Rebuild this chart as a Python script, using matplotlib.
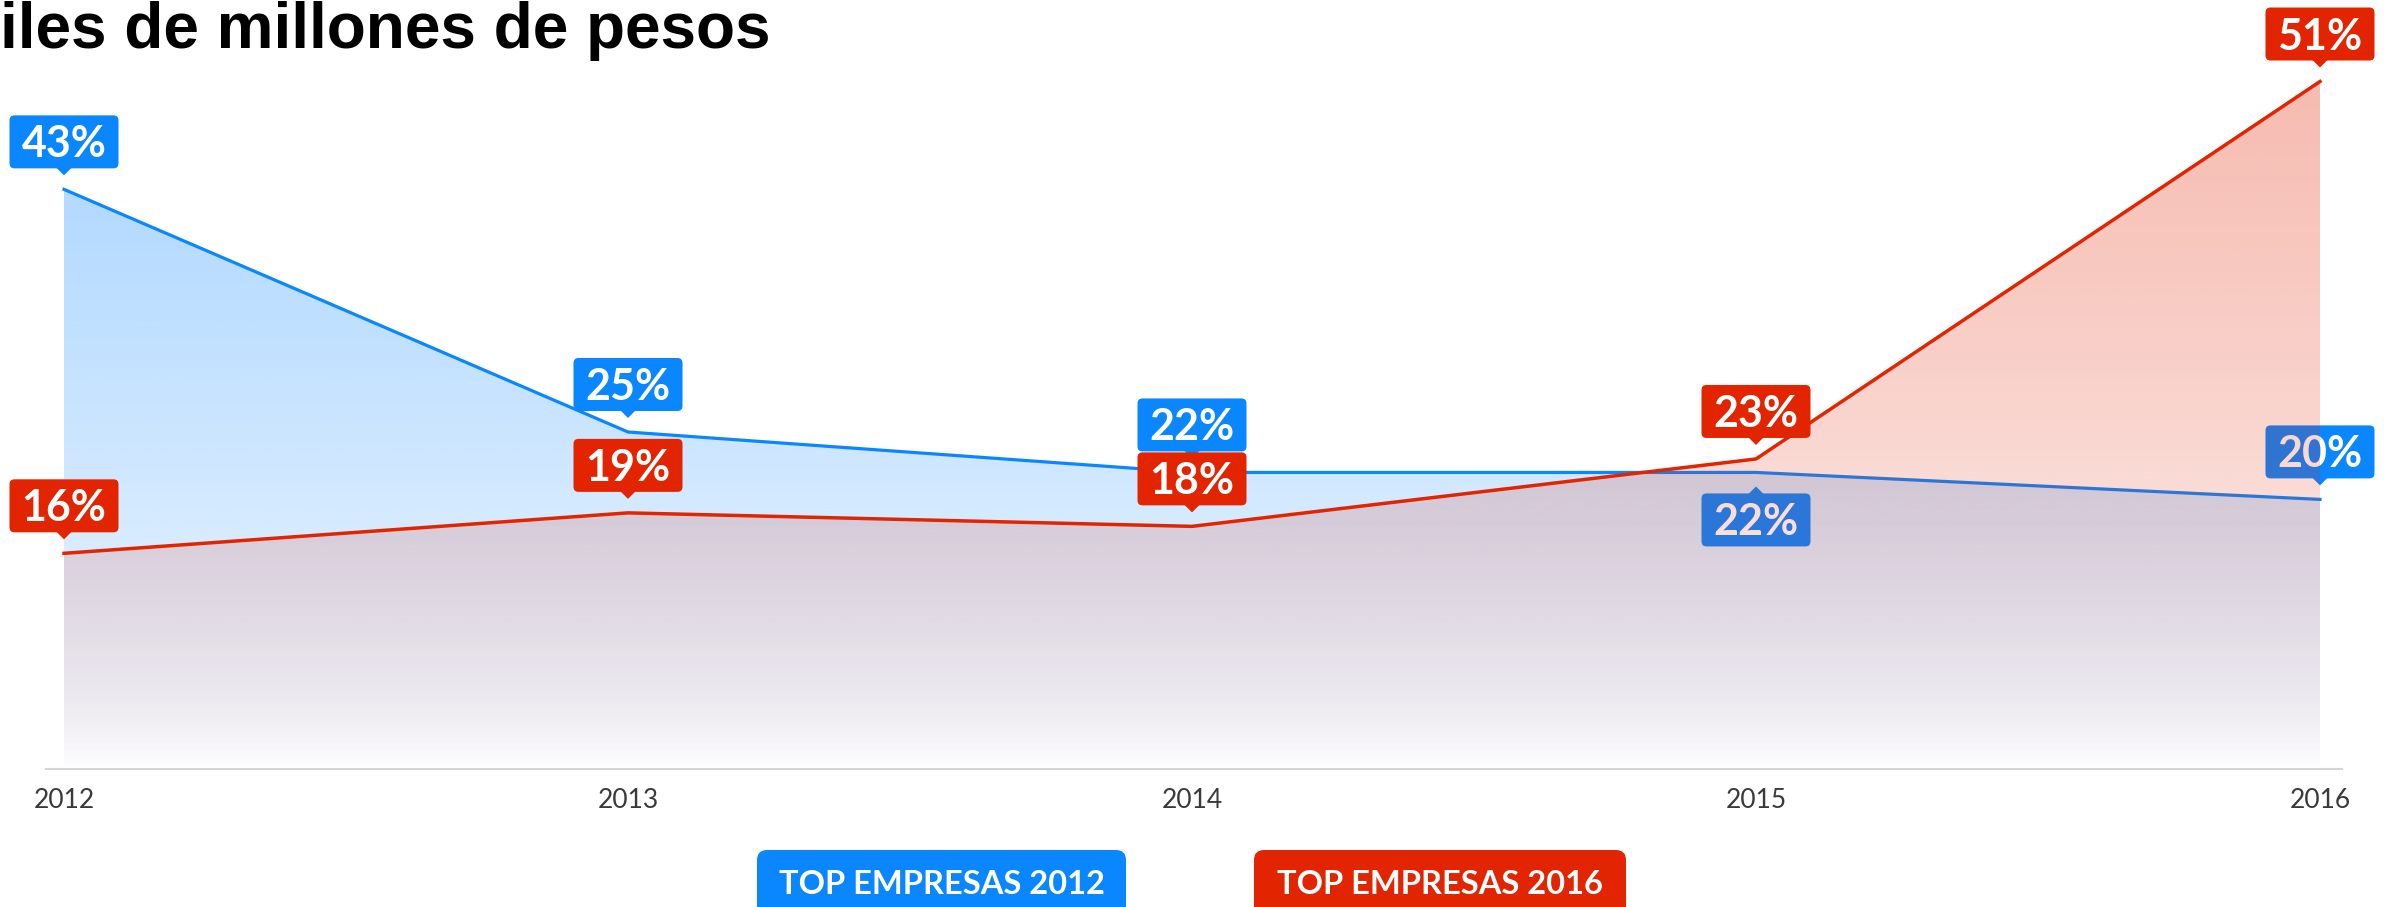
import matplotlib
matplotlib.use("Agg")
import matplotlib.pyplot as plt
import matplotlib.transforms as mtransforms
from matplotlib.colors import to_rgb
from matplotlib.patches import FancyBboxPatch, Polygon
import numpy as np

# data
years = [2012, 2013, 2014, 2015, 2016]
series_names = ["TOP EMPRESAS 2012", "TOP EMPRESAS 2016"]
top_2012 = [43, 25, 22, 22, 20]
top_2016 = [16, 19, 18, 23, 51]
side_2012 = ["above", "above", "above", "below", "above"]
side_2016 = ["above", "above", "above", "above", "above"]
title = "iles de millones de pesos"

BLUE = "#0a86ff"
RED = "#e22400"

W, H, DPI = 2392, 907, 100
fig = plt.figure(figsize=(W / DPI, H / DPI), dpi=DPI)
fig.patch.set_facecolor("white")

# plot area (pixels): x 46..2342, baseline at y=769 from top
ax = fig.add_axes([46 / W, (H - 769) / H, (2342 - 46) / W, 769 / H])
ax.set_facecolor("none")


def gradient_area(ax, x, y, color, z, a0=0.31, gamma=0.7):
    poly = ax.fill_between(x, y, 0, color="none", lw=0)
    ymax = max(y)
    t = np.linspace(0, 1, 256)[:, None]
    rgba = np.zeros((256, 1, 4))
    rgba[..., :3] = to_rgb(color)
    rgba[..., 3] = a0 * t ** gamma
    im = ax.imshow(rgba, extent=[x[0], x[-1], 0, ymax], origin="lower",
                   aspect="auto", zorder=z, interpolation="bilinear")
    im.set_clip_path(poly.get_paths()[0], ax.transData)


def draw_label(ax, x, y, text, color, side, z):
    # box geometry in inches, relative to the data point
    trans = fig.dpi_scale_trans + mtransforms.ScaledTranslation(x, y, ax.transData)
    w, h, gap, tip = 1.09, 0.53, 0.21, 0.14
    if side == "above":
        y0 = gap
        tri = [(-0.08, gap + 0.01), (0.08, gap + 0.01), (0, tip)]
    else:
        y0 = -gap - h
        tri = [(-0.08, -gap - 0.01), (0.08, -gap - 0.01), (0, -tip)]
    ax.add_patch(FancyBboxPatch((-w / 2, y0), w, h,
                                boxstyle="round,pad=0,rounding_size=0.05",
                                fc=color, ec="none", transform=trans,
                                zorder=z, clip_on=False))
    ax.add_patch(Polygon(tri, closed=True, fc=color, ec="none",
                         transform=trans, zorder=z, clip_on=False))
    fs = 31
    cap = fs / 72 * 0.72
    ax.text(0, y0 + h / 2 - cap / 2, text, transform=trans, ha="center",
            va="baseline", fontsize=fs, fontweight="bold", family="Lato",
            color="white", zorder=z, clip_on=False)


# blue series underneath, red series on top
gradient_area(ax, years, top_2012, BLUE, 1)
ax.plot(years, top_2012, color=BLUE, lw=2.3, zorder=2, solid_joinstyle="round")
for x, v, s in zip(years, top_2012, side_2012):
    draw_label(ax, x, v, f"{v}%", BLUE, s, 3)

gradient_area(ax, years, top_2016, RED, 4)
ax.plot(years, top_2016, color=RED, lw=2.5, zorder=5, solid_joinstyle="round")
for x, v, s in zip(years, top_2016, side_2016):
    draw_label(ax, x, v, f"{v}%", RED, s, 6)

# scales: 2012 at x=64px, 2016 at x=2320px; ~13.48 px per percent
px_year = (2320 - 64) / 4
ax.set_xlim(2012 - 18 / px_year, 2016 + 22 / px_year)
ax.set_ylim(0, 769 / 13.48)
ax.set_autoscale_on(False)

for s in ["top", "right", "left"]:
    ax.spines[s].set_visible(False)
ax.spines["bottom"].set_color("#d6d6d6")
ax.spines["bottom"].set_linewidth(1.5)
ax.set_yticks([])
ax.set_xticks(years)
ax.set_xticklabels([str(y) for y in years], fontsize=19, family="Lato",
                   fontweight="normal", color="#3a3a3a")
ax.tick_params(axis="x", length=0, pad=14)

# title (cut at the left edge as in the source)
fig.text(0.0, (H - 48) / H, title, ha="left", va="baseline", fontsize=46,
         fontweight="bold", family="Liberation Sans", color="black")

# legend pills
legend_spans = [(757, 1126), (1254, 1626)]
for name, color, (x0, x1) in zip(series_names, [BLUE, RED], legend_spans):
    fig.patches.append(FancyBboxPatch((x0 / DPI, -0.3), (x1 - x0) / DPI, 0.87,
                                      boxstyle="round,pad=0,rounding_size=0.1",
                                      fc=color, ec="none",
                                      transform=fig.dpi_scale_trans, figure=fig))
    fs = 23.5
    fig.text((x0 + x1) / 2 / W, (0.25 - fs / 72 * 0.72 / 2) * DPI / H, name,
             ha="center", va="baseline", fontsize=fs, fontweight="bold",
             family="Lato", color="white")

fig.savefig("out.png", dpi=DPI)
